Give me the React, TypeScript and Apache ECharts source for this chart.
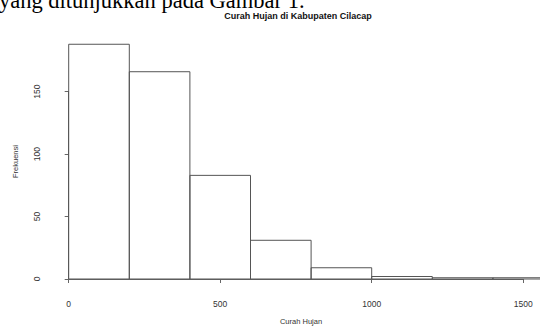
import React, { useEffect, useRef } from "react";
import * as echarts from "echarts";

const binEdges = [0, 200, 400, 600, 800, 1000, 1200, 1400, 1600];
const counts = [188, 166, 83, 31, 9, 2, 1, 1];
const xTicks = [0, 500, 1000, 1500];
const yTicks = [0, 50, 100, 150];
const titleText = "Curah Hujan di Kabupaten Cilacap";
const xName = "Curah Hujan";
const yName = "Frekuensi";
const captionText = "yang ditunjukkan pada Gambar 1.";

export default function App() {
  const ref = useRef<HTMLDivElement>(null);
  useEffect(() => {
    if (!ref.current) return;
    const chart = echarts.init(ref.current, null, { renderer: "svg" });
    const data = counts.map((c, i) => [binEdges[i], binEdges[i + 1], c]);
    const lineColor = "#555";
    const font = "Liberation Sans, Arial, sans-serif";
    chart.setOption({
      animation: false,
      backgroundColor: "#fff",
      grid: { left: 68.7, top: 91.7, width: 454.5, height: 187.3 },
      xAxis: {
        type: "value",
        min: xTicks[0],
        max: xTicks[xTicks.length - 1],
        interval: 500,
        offset: 11,
        axisLine: { show: true, lineStyle: { color: "#666", width: 1 } },
        axisTick: { show: true, length: 4, lineStyle: { color: "#666" } },
        axisLabel: {
          fontSize: 8.5,
          color: "#333",
          margin: 9,
          fontFamily: font,
          formatter: (v: number) => String(v),
        },
        splitLine: { show: false },
      },
      yAxis: {
        type: "value",
        min: yTicks[0],
        max: yTicks[yTicks.length - 1],
        interval: 50,
        offset: 19.4,
        axisLine: { show: true, lineStyle: { color: "#666", width: 1 } },
        axisTick: { show: true, length: 4, lineStyle: { color: "#666" } },
        axisLabel: {
          fontSize: 8.5,
          color: "#333",
          margin: 8,
          rotate: 90,
          fontFamily: font,
          formatter: (v: number) => String(v),
        },
        splitLine: { show: false },
      },
      graphic: [
        {
          type: "text",
          x: -1,
          y: 0,
          style: {
            text: captionText,
            fontSize: 22.5,
            fontFamily: "Liberation Serif, Times New Roman, serif",
            fill: "#000",
            textAlign: "left",
            textVerticalAlign: "middle",
          },
        },
        {
          type: "text",
          x: 298,
          y: 16,
          style: {
            text: titleText,
            fontSize: 9,
            fontWeight: "bold",
            fontFamily: font,
            fill: "#111",
            textAlign: "center",
            textVerticalAlign: "middle",
          },
        },
        {
          type: "text",
          x: 301,
          y: 321,
          style: {
            text: xName,
            fontSize: 7.5,
            fontFamily: font,
            fill: "#333",
            textAlign: "center",
            textVerticalAlign: "middle",
          },
        },
        {
          type: "text",
          x: 15,
          y: 161.5,
          rotation: Math.PI / 2,
          style: {
            text: yName,
            fontSize: 7.5,
            fontFamily: font,
            fill: "#333",
            textAlign: "center",
            textVerticalAlign: "middle",
          },
        },
      ],
      series: [
        {
          type: "custom",
          clip: false,
          data,
          renderItem: (params: any, api: any) => {
            const x0 = api.value(0);
            const x1 = api.value(1);
            const c = api.value(2);
            const p0 = api.coord([x0, c]);
            const p1 = api.coord([x1, 0]);
            return {
              type: "rect",
              shape: { x: p0[0], y: p0[1], width: p1[0] - p0[0], height: p1[1] - p0[1] },
              style: { fill: "none", stroke: lineColor, lineWidth: 1 },
            };
          },
        },
      ],
    });
    return () => chart.dispose();
  }, []);
  return (
    <div
      ref={ref}
      style={{ position: "fixed", left: 0, top: 0, width: 540, height: 327, overflow: "hidden" }}
    />
  );
}
